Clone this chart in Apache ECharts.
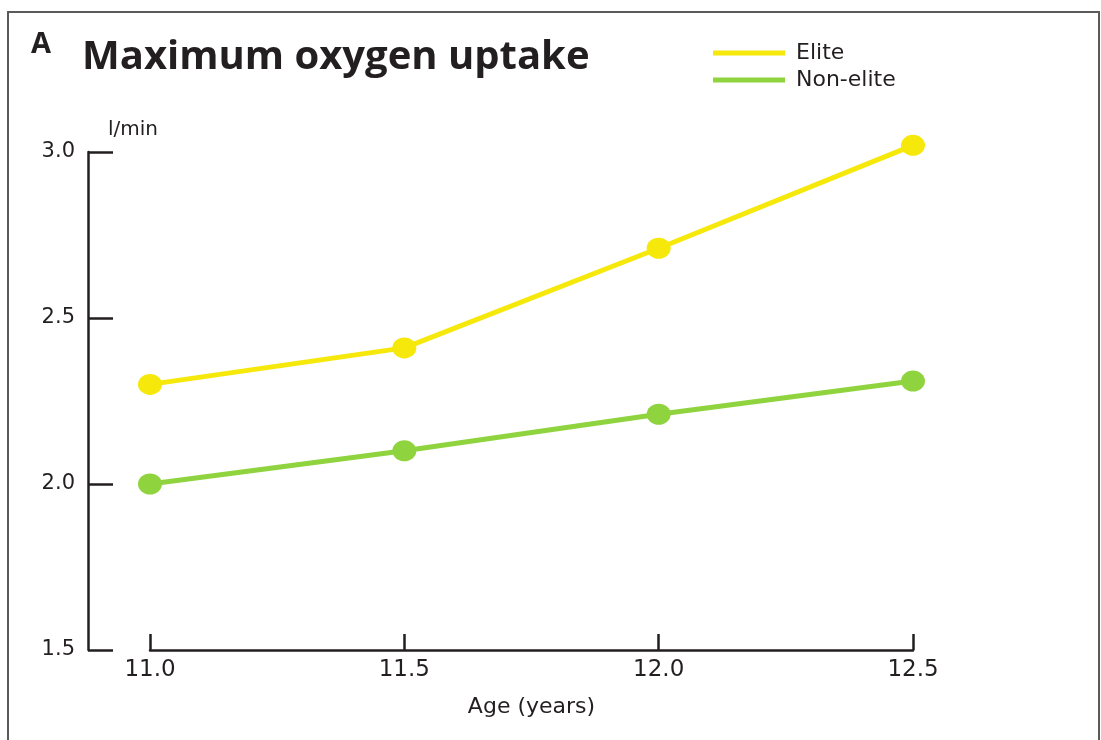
<!DOCTYPE html>
<html>
<head>
<meta charset="utf-8">
<script src="https://cdn.jsdelivr.net/npm/echarts@6/dist/echarts.min.js"></script>
<style>
html,body{margin:0;padding:0;background:#fff;}
#c{width:1101px;height:740px;}
</style>
</head>
<body>
<div id="c"></div>
<script>
var ages = [11.0, 11.5, 12.0, 12.5];
var elite = [2.30, 2.41, 2.71, 3.02];
var nonElite = [2.00, 2.10, 2.21, 2.31];
var seriesNames = ['Elite', 'Non-elite'];
var yTicks = {min: 1.5, max: 3.0, interval: 0.5};
var xTicks = {min: 11.0, max: 12.5, interval: 0.5};

function pairs(xs, ys){ return xs.map(function(x,i){ return [x, ys[i]]; }); }

var font = 'DejaVu Sans';
var chart = echarts.init(document.getElementById('c'), null, {renderer:'canvas'});
chart.setOption({
  backgroundColor: '#ffffff',
  animation: false,
  textStyle: {fontFamily: font},
  title: [
    {text: 'A', left: 26, top: 25, textStyle: {fontFamily: 'Open Sans', fontSize: 29, fontWeight: 'bold', color: '#231f20'}},
    {text: 'Maximum oxygen uptake', left: 77, top: 33, textStyle: {fontFamily: 'Open Sans', fontSize: 40, fontWeight: 'bold', color: '#231f20'}}
  ],
  legend: {
    data: seriesNames,
    orient: 'vertical',
    left: 708, top: 37,
    icon: 'rect',
    itemWidth: 72, itemHeight: 5,
    itemGap: 5,
    textStyle: {fontFamily: font, fontSize: 22, color: '#231f20', padding: [0,0,0,6]}
  },
  graphic: [
    {type: 'rect', shape: {x: 8, y: 12, width: 1091, height: 760}, style: {fill: 'none', stroke: '#5a5a5a', lineWidth: 2}, silent: true}
  ],
  grid: {left: 150, right: 188, top: 152, bottom: 90},
  xAxis: {
    type: 'value',
    min: xTicks.min, max: xTicks.max, interval: xTicks.interval,
    name: 'Age (years)',
    nameLocation: 'middle',
    nameGap: 46,
    nameTextStyle: {fontFamily: font, fontSize: 22, color: '#231f20'},
    axisLine: {show: true, lineStyle: {color: '#231f20', width: 2.5}},
    axisTick: {show: true, inside: true, length: 16, lineStyle: {color: '#231f20', width: 2.5}},
    axisLabel: {fontFamily: font, fontSize: 23, color: '#231f20', margin: 9,
      formatter: function(v){ return v.toFixed(1); }},
    splitLine: {show: false}
  },
  yAxis: {
    type: 'value',
    min: yTicks.min, max: yTicks.max, interval: yTicks.interval,
    offset: 62,
    name: 'l/min',
    nameLocation: 'end',
    nameGap: 12,
    nameTextStyle: {fontFamily: font, fontSize: 20, color: '#231f20', align: 'left', padding: [0,0,0,20]},
    axisLine: {show: true, lineStyle: {color: '#231f20', width: 2.5}},
    axisTick: {show: true, inside: true, length: 25, lineStyle: {color: '#231f20', width: 2.5}},
    axisLabel: {fontFamily: font, fontSize: 21, color: '#231f20', margin: 13,
      formatter: function(v){ return v.toFixed(1); }},
    splitLine: {show: false}
  },
  series: [
    {
      name: seriesNames[0], type: 'line', data: pairs(ages, elite), clip: false,
      symbol: 'circle', symbolSize: [24, 21],
      lineStyle: {color: '#f6e80a', width: 5},
      itemStyle: {color: '#f6e80a'}
    },
    {
      name: seriesNames[1], type: 'line', data: pairs(ages, nonElite), clip: false,
      symbol: 'circle', symbolSize: [24, 21],
      lineStyle: {color: '#8fd43e', width: 5},
      itemStyle: {color: '#8fd43e'}
    }
  ]
});
</script>
</body>
</html>
